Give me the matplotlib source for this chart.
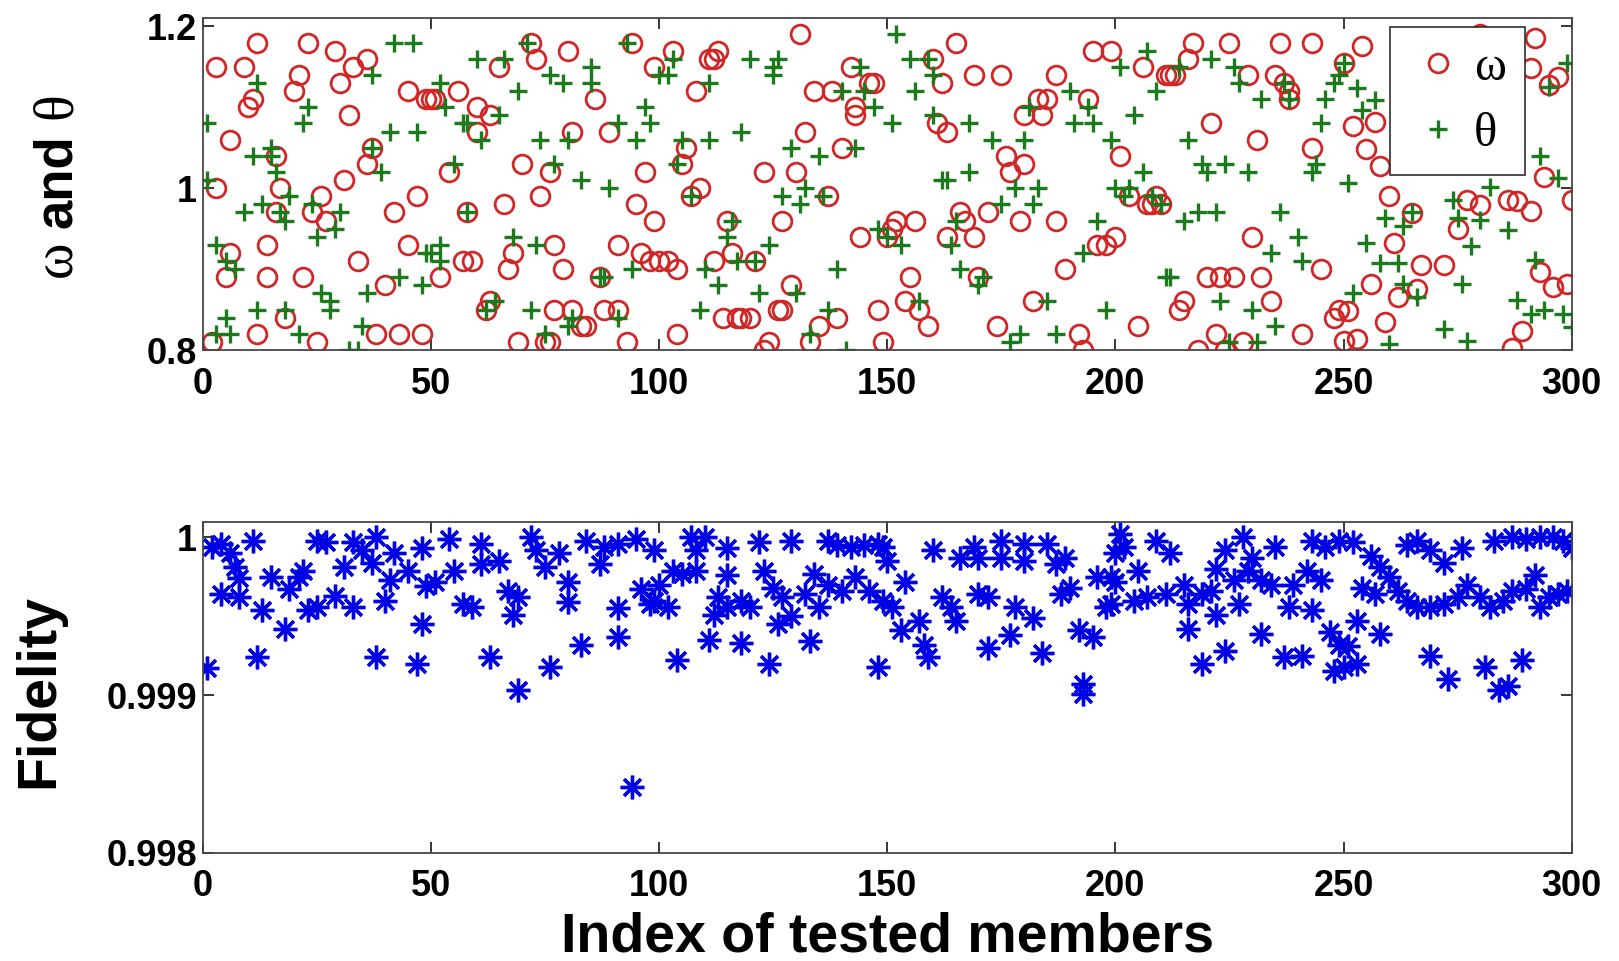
import matplotlib
matplotlib.use("Agg")
import matplotlib.pyplot as plt

# ---------------- data ----------------
# omega (red circles): (member index, value)
omega_pts = [
    (2,0.81),(3,1.15),(3,1.00),(5,0.89),(6,1.06),(6,0.92),(9,1.15),(10,1.10),(11,1.11),(12,1.18),
    (12,0.82),(14,0.93),(14,0.89),(16,1.04),(16,0.97),(17,1.00),(18,0.84),(20,1.12),(21,1.14),(22,0.89),
    (23,1.18),(24,0.97),(25,0.81),(26,0.99),(27,0.96),(29,1.17),(30,1.13),(31,1.01),(32,1.09),(33,1.15),
    (34,0.91),(36,1.16),(36,1.03),(37,1.05),(38,0.82),(40,0.88),(42,0.97),(43,0.82),(45,1.12),(45,0.93),
    (47,0.99),(48,0.82),(49,1.11),(50,1.11),(51,1.11),(52,0.89),(54,1.02),(56,1.12),(57,0.91),(58,0.97),
    (59,0.91),(60,1.10),(60,1.07),(62,0.85),(63,0.86),(63,1.09),(65,1.15),(66,0.98),(67,0.90),(68,0.92),
    (69,0.81),(70,1.03),(72,1.18),(73,1.16),(74,0.99),(75,0.81),(76,1.02),(76,0.81),(77,0.85),(77,0.93),
    (79,0.90),(80,1.17),(81,1.07),(81,0.85),(83,0.83),(84,0.83),(86,1.11),(87,0.89),(88,0.85),(89,1.07),
    (91,0.93),(91,0.85),(93,0.81),(94,1.18),(95,0.98),(96,0.92),(97,1.02),(98,0.91),(99,1.15),(99,0.96),
    (100,0.91),(102,0.91),(103,1.17),(104,0.90),(104,0.82),(105,1.03),(106,1.05),(107,0.99),(108,1.12),(109,1.00),
    (111,1.16),(112,1.16),(112,0.91),(113,1.17),(114,0.84),(115,0.96),(116,0.92),(117,0.84),(118,0.84),(120,0.84),
    (121,0.91),(123,0.80),(123,1.02),(124,0.81),(126,0.85),(127,0.85),(127,0.96),(129,0.88),(130,1.02),(131,1.19),
    (132,1.07),(133,0.81),(134,1.12),(135,0.83),(137,0.99),(138,1.12),(139,0.84),(140,1.05),(142,1.15),(143,1.10),
    (143,1.09),(144,0.94),(146,1.13),(147,1.13),(148,0.85),(149,0.81),(150,0.94),(151,0.95),(152,0.96),(154,0.86),
    (155,0.89),(156,0.96),(157,0.85),(159,0.83),(160,1.16),(161,1.08),(162,1.13),(163,1.07),(163,0.94),(165,1.18),
    (166,0.97),(167,0.96),(169,0.94),(169,1.14),(170,0.89),(172,0.97),(174,0.83),(175,1.14),(176,1.04),(177,1.02),
    (179,0.96),(180,1.03),(180,1.09),(182,0.86),(183,1.11),(184,1.09),(185,1.11),(187,0.96),(187,1.14),(189,0.90),
    (192,0.82),(193,0.80),(194,1.11),(195,1.17),(196,0.93),(198,0.93),(199,1.17),(200,0.94),(201,1.04),(203,0.99),
    (205,0.83),(206,1.15),(207,0.98),(208,0.98),(209,0.99),(210,0.98),(211,1.14),(212,1.14),(213,1.14),(214,0.85),
    (215,0.86),(216,1.16),(217,1.18),(218,0.80),(220,0.89),(221,1.08),(222,0.82),(223,0.89),(224,0.80),(225,1.18),
    (226,0.89),(228,0.81),(229,1.14),(230,0.94),(231,1.06),(232,0.89),(234,0.86),(235,1.14),(236,1.18),(237,1.13),
    (238,1.12),(238,1.11),(241,0.82),(243,1.05),(243,1.18),(245,0.90),(248,0.84),(249,0.85),
    (250,1.155),(250,0.811),(251,0.848),(252,1.077),(253,0.813),(254,1.176),(255,1.049),(256,0.882),(257,1.082),
    (258,1.028),(259,0.835),(260,0.990),(261,0.932),(262,0.866),(265,0.969),(266,0.876),(267,0.905),(272,0.905),
    (275,0.949),(277,0.985),(280,0.979),(280,1.19),(286,0.985),(287,0.802),(288,0.984),(289,0.823),(291,0.972),
    (291,1.148),(292,1.186),(293,0.896),(294,1.014),(295,1.127),(296,0.878),(297,1.137),(299,0.882),(300,0.985),
]

# theta (green crosses): (member index, value)
theta_pts = [
    (1,1.08),(1,1.01),(3,0.93),(3,0.82),(5,0.84),(5,0.91),(6,0.82),(7,0.90),(9,0.97),(11,1.04),
    (12,0.85),(12,1.13),(13,0.98),(15,1.05),(15,1.04),(16,1.02),(17,0.97),(18,0.96),(18,0.85),(19,0.99),
    (21,0.82),(22,1.08),(23,1.10),(24,0.98),(25,0.94),(26,0.87),(28,0.85),(28,0.86),(30,0.97),(29,0.95),
    (32,0.80),(34,0.80),(35,0.83),(36,0.87),(37,1.05),(37,1.14),(39,1.02),(41,1.07),(42,1.18),(43,0.89),
    (46,1.18),(47,1.07),(48,0.88),(49,0.92),(50,0.92),(52,0.91),(52,0.93),(52,1.13),(53,1.10),(55,1.03),
    (57,1.08),(58,0.97),(58,1.08),(60,1.16),(61,1.06),(62,0.85),(64,0.86),(65,1.09),(66,1.16),(68,0.94),
    (69,1.12),(71,1.18),(72,0.85),(73,0.93),(74,1.06),(75,0.82),(76,1.14),(77,1.03),(79,1.13),(80,1.06),
    (80,0.83),(81,0.84),(83,1.01),(85,1.13),(85,1.15),(87,0.89),(88,0.89),(89,1.00),(91,1.08),(91,0.84),
    (93,1.18),(94,0.90),(95,1.06),(97,1.10),(98,1.08),(100,1.14),(102,1.14),(103,1.16),(104,1.03),(105,1.06),
    (107,0.99),(109,0.85),(110,0.90),(111,1.13),(111,1.06),(113,0.88),(115,0.94),(116,0.96),(117,0.91),(118,1.07),
    (120,1.16),(121,0.91),(122,0.87),(124,0.93),(125,1.15),(125,1.14),(126,1.16),(127,0.99),(129,1.05),(130,0.87),
    (131,0.98),(132,1.00),(133,0.82),(135,1.04),(136,0.99),(137,0.85),(139,0.90),(140,1.12),(141,0.80),(143,1.05),
    (144,1.15),(145,1.12),(147,1.10),(148,0.95),(150,0.94),(151,1.08),(152,1.19),(153,0.93),(155,1.16),(156,1.12),
    (157,0.86),(159,1.16),(160,1.14),(160,1.09),(162,1.01),(163,1.01),(164,0.93),(165,0.96),(166,0.90),(168,1.08),
    (168,1.02),(170,0.88),(171,0.89),(173,1.06),(175,0.98),(177,0.81),(178,1.00),(179,0.82),(180,1.06),(181,1.10),
    (182,0.98),(183,1.00),(185,0.86),(187,0.82),(190,1.12),(191,1.08),(193,0.92),(194,1.10),(195,1.08),(196,0.96),
    (198,0.85),(199,1.06),(200,1.00),(201,1.15),(202,0.99),(203,1.00),(204,1.09),(206,1.02),(207,1.17),(208,0.99),
    (209,1.12),(210,0.98),(211,0.89),(212,0.89),(214,1.15),(215,0.96),(216,1.06),(218,0.97),(219,1.03),(220,1.02),
    (221,1.16),(222,0.97),(223,0.86),(224,1.03),(225,0.81),(226,1.15),(227,1.13),(229,1.02),(230,0.85),(231,0.81),
    (232,1.11),(234,0.92),(235,0.83),(236,0.97),(237,1.13),(238,1.11),(240,0.94),(241,0.91),(243,1.02),(244,1.03),
    (245,1.08),(246,1.11),(248,1.13),(249,1.14),
    (250,1.155),(251,1.006),(252,0.870),(253,1.124),(254,1.097),(255,0.932),(257,1.109),(258,0.908),(259,0.963),
    (260,0.807),(262,0.908),(263,0.953),(263,0.881),(265,0.971),(266,0.866),(272,0.826),(274,0.985),(275,0.963),
    (276,0.881),(277,0.811),(278,0.929),(280,0.961),(282,1.002),(286,0.948),(288,0.862),(291,0.844),(292,0.911),
    (293,1.040),(294,0.850),(295,1.125),(297,1.012),(298,0.845),(299,1.155),(300,0.829),
]

# fidelity (blue asterisks): (member index, value)
fidelity_pts = [
    (1,0.99917),(2,0.99994),(4,0.99996),(6,0.99990),(4,0.99964),(7,0.99981),(8,0.99974),(8,0.99962),(11,0.99998),(13,0.99954),
    (12,0.99924),(15,0.99975),(18,0.99942),(19,0.99967),(21,0.99975),(22,0.99979),(23,0.99954),(25,0.99998),(27,0.99997),(25,0.99956),
    (29,0.99963),(31,0.99981),(33,0.99956),(33,0.99997),(35,0.99992),(37,0.99984),(38,1.00000),(38,0.99924),(40,0.99960),(41,0.99973),
    (42,0.99990),(45,0.99979),(48,0.99993),(47,0.99920),(48,0.99945),(49,0.99969),
    (54,0.99999),(51,0.99972),(55,0.99979),(57,0.99958),(59,0.99956),(61,0.99996),(61,0.99983),(65,0.99985),(63,0.99924),(67,0.99966),
    (69,0.99962),(68,0.99951),(69,0.99903),(72,1.00000),(73,0.99992),(75,0.99981),(78,0.99990),(76,0.99918),(80,0.99972),(80,0.99959),
    (83,0.99932),(84,0.99998),(87,0.99983),(88,0.99994),(91,0.99996),(91,0.99955),(91,0.99937),(94,0.99842),(95,0.99999),(96,0.99967),
    (98,0.99958),(99,0.99992),
    (99,0.99960),(102,0.99956),(104,0.99922),(107,1.00000),(110,1.00000),(108,0.99992),(103,0.99979),(105,0.99977),(108,0.99979),(100,0.99970),
    (115,0.99993),(115,0.99976),(113,0.99962),(112,0.99951),(115,0.99956),(118,0.99960),(120,0.99956),(111,0.99935),(118,0.99933),(122,0.99997),
    (123,0.99979),(125,0.99968),(124,0.99920),(129,0.99998),(127,0.99962),(126,0.99945),(129,0.99950),(132,0.99964),(133,0.99934),(134,0.99977),
    (135,0.99956),(137,0.99998),(139,0.99995),(142,0.99994),(145,0.99995),(148,0.99996),(137,0.99970),(140,0.99966),(143,0.99975),(146,0.99966),
    (148,0.99918),(149,0.99960),
    (149,0.99994),(150,0.99985),(154,0.99972),(151,0.99956),(153,0.99941),(157,0.99947),(158,0.99932),(159,0.99924),(160,0.99992),(162,0.99962),
    (164,0.99956),(165,0.99947),(166,0.99987),(169,0.99994),(170,0.99987),(170,0.99964),(172,0.99962),(172,0.99930),(175,0.99998),(175,0.99987),
    (178,0.99956),(177,0.99938),(180,0.99996),(180,0.99985),(182,0.99949),(184,0.99927),(185,0.99996),(187,0.99983),(189,0.99987),(188,0.99964),
    (190,0.99968),(192,0.99941),(195,0.99937),(193,0.99907),(193,0.99901),(196,0.99975),(199,0.99975),(198,0.99956),(201,1.00002),(200,0.99990),
    (202,0.99994),(200,0.99972),(199,0.99958),(205,0.99979),(209,0.99998),(212,0.99990),(204,0.99960),(207,0.99962),(211,0.99964),(215,0.99970),
    (216,0.99958),(219,0.99964),(221,0.99966),(216,0.99942),(222,0.99951),(219,0.99920),(224,0.99928),(222,0.99980),(224,0.99992),(226,0.99973),
    (227,0.99958),(228,1.00000),(230,0.99987),(229,0.99979),(232,0.99973),(235,0.99994),(234,0.99970),(232,0.99939),(238,0.99956),(239,0.99970),
    (243,0.99954),(242,0.99979),(245,0.99973),(243,0.99998),(246,0.99994),(237,0.99924),(241,0.99925),(247,0.99940),(249,0.99932),(248,0.99915),
    (249,0.99998),
    (252,0.99997),(251,0.99931),(250,0.99918),(253,0.99920),(253,0.99947),(256,0.99988),(258,0.99981),(254,0.99968),(257,0.99964),(258,0.99939),
    (260,0.99975),(262,0.99966),(264,0.99960),(266,0.99956),(264,0.99995),(266,0.99998),(269,0.99992),(272,0.99984),(276,0.99993),(269,0.99956),
    (272,0.99958),(275,0.99962),(277,0.99970),(280,0.99962),(282,0.99956),(285,0.99960),(287,0.99966),(290,0.99967),(292,0.99976),(293,0.99956),
    (295,0.99962),(297,0.99964),(299,0.99966),(283,0.99998),(287,1.00000),(290,0.99999),(293,1.00000),(296,1.00000),(298,0.99998),(300,0.99993),
    (269,0.99925),(273,0.99910),(281,0.99918),(284,0.99903),(286,0.99906),(289,0.99922),
]

x_ticks = [0, 50, 100, 150, 200, 250, 300]
top_yticks = [0.8, 1.0, 1.2]
top_yticklabels = ["0.8", "1", "1.2"]
bot_yticks = [0.998, 0.999, 1.0]
bot_yticklabels = ["0.998", "0.999", "1"]
legend_labels = ["ω", "θ"]

omega_idx = [p[0] for p in omega_pts]
omega_val = [p[1] for p in omega_pts]
theta_idx = [p[0] for p in theta_pts]
theta_val = [p[1] for p in theta_pts]
fid_idx = [p[0] for p in fidelity_pts]
fid_val = [p[1] for p in fidelity_pts]

# ---------------- styling ----------------
plt.rcParams["font.family"] = ["Liberation Sans", "DejaVu Sans"]
plt.rcParams["font.weight"] = "bold"

W, H = 1619, 961
fig = plt.figure(figsize=(W / 100, H / 100), dpi=100)
fig.patch.set_facecolor("white")

def fx(px):
    return px / W

def fy(py):
    return 1 - py / H

ax_left, ax_right = 202.7, 1571.7
ax1 = fig.add_axes([fx(ax_left), fy(350), fx(ax_right - ax_left), (350 - 18.3) / H])
ax2 = fig.add_axes([fx(ax_left), fy(852.7), fx(ax_right - ax_left), (852.7 - 521.7) / H])

red = "#d02626"
green = "#1b7a1b"
blue = "#0000e6"
spine_col = "#484848"
tick_fs = 26

ax1.plot(omega_idx, omega_val, linestyle="none", marker="o", markersize=13.5,
         markerfacecolor="none", markeredgecolor=red, markeredgewidth=2.0, label=legend_labels[0])
ax1.plot(theta_idx, theta_val, linestyle="none", marker="+", markersize=13,
         markeredgecolor=green, markeredgewidth=2.4, label=legend_labels[1])

ax2.plot(fid_idx, fid_val, linestyle="none", marker=(8, 2, 0), markersize=17,
         markeredgecolor=blue, markerfacecolor=blue, markeredgewidth=2.4)

for ax in (ax1, ax2):
    ax.set_xlim(0, 300)
    ax.set_xticks(x_ticks)
    ax.set_xticklabels([str(t) for t in x_ticks])
    ax.tick_params(direction="in", length=8, width=1.1, top=True, right=True,
                   labelsize=tick_fs, colors="black")
    for s in ax.spines.values():
        s.set_color(spine_col)
        s.set_linewidth(1.3)
    ax.tick_params(axis="x", pad=12)
    ax.tick_params(axis="y", pad=4)

ax1.set_ylim(0.8, 1.21)
ax1.set_yticks(top_yticks)
ax1.set_yticklabels(top_yticklabels, fontweight="bold")
ax2.set_ylim(0.998, 1.0001)
ax2.set_yticks(bot_yticks)
ax2.set_yticklabels(bot_yticklabels, fontweight="bold")
for ax in (ax1, ax2):
    for lab in ax.get_xticklabels() + ax.get_yticklabels():
        lab.set_fontweight("bold")

leg = ax1.legend(loc="upper left", bbox_to_anchor=(0.8673, 0.9747),
                 prop={"family": "Liberation Serif", "size": 35, "weight": "normal"},
                 frameon=True, fancybox=False, framealpha=1.0, edgecolor="#303030",
                 borderpad=0.40, labelspacing=0.44, handlelength=1.18, handletextpad=0.15,
                 borderaxespad=0.0)
leg.get_frame().set_linewidth(1.2)

# y label of the top panel: serif Greek letters with bold sans "and"
lab_x = fx(57)
fig.text(lab_x, fy(259), "ω", rotation=90, ha="center", va="center",
         fontsize=40, family="Liberation Serif", fontweight="normal")
fig.text(lab_x, fy(181), "and", rotation=90, ha="center", va="center",
         fontsize=38, fontweight="bold")
fig.text(lab_x, fy(106), "θ", rotation=90, ha="center", va="center",
         fontsize=40, family="Liberation Serif", fontweight="normal")

fig.text(fx(39), fy(691), "Fidelity", rotation=90, ha="center", va="center",
         fontsize=40, fontweight="bold")
fig.text(fx((ax_left + ax_right) / 2), fy(937), "Index of tested members", ha="center", va="center",
         fontsize=40, fontweight="bold")

fig.savefig("out.png", dpi=100, facecolor="white")
